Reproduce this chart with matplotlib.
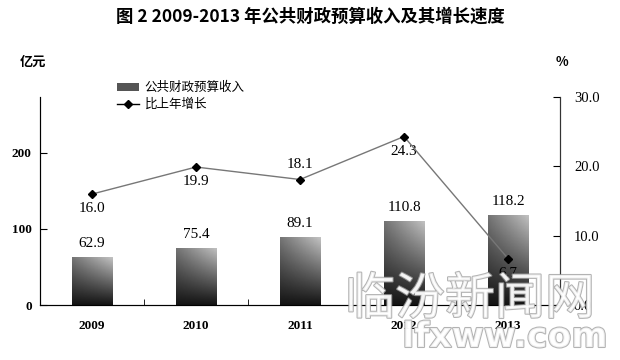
import numpy as np
import matplotlib.pyplot as plt
import matplotlib.patheffects as pe
from matplotlib.lines import Line2D
from matplotlib.patches import Patch

plt.rcParams['font.family'] = ['Noto Sans CJK SC', 'DejaVu Sans']

years = ['2009', '2010', '2011', '2012', '2013']
revenue = [62.9, 75.4, 89.1, 110.8, 118.2]
growth = [16.0, 19.9, 18.1, 24.3, 6.7]
growth_above = [False, False, True, False, False]

serif = 'Liberation Serif'

fig = plt.figure(figsize=(6.2, 3.6), dpi=100)
ax = fig.add_axes([40 / 620, 55 / 360, 520 / 620, 208 / 360])
ax2 = ax.twinx()

x = np.arange(len(years))
bars = ax.bar(x, revenue, width=0.39, color='#444444', zorder=2)

# gradient fill clipped to each bar: dark at the bottom, lighter towards the top right
ny, nx = 60, 30
v = np.linspace(1, 0, ny)[:, None]
h = np.linspace(0, 1, nx)[None, :]
grad = np.clip(0.08 + 0.38 * v + 0.30 * h * v, 0, 0.85)
for b in bars:
    x0, y0 = b.get_x(), b.get_y()
    w, hgt = b.get_width(), b.get_height()
    im = ax.imshow(grad, cmap='gray', vmin=0, vmax=1, aspect='auto',
                   extent=[x0, x0 + w, y0, y0 + hgt], zorder=3)
    im.set_clip_path(b)
    ax.text(b.get_x() + w / 2, hgt + 9, f'{hgt:.1f}', ha='center', va='bottom',
            family=serif, fontsize=11)

ax.set_xlim(-0.5, 4.5)
ax.set_ylim(0, 273)
ax.set_yticks([0, 100, 200])
ax.set_yticklabels(['0', '100', '200'], family=serif, fontsize=9.5, fontweight='bold')
ax.set_xticks(x)
ax.set_xticklabels(years, family=serif, fontsize=9.5, fontweight='bold')
ax.tick_params(axis='x', length=0, pad=11)
ax.set_xticks(x[:-1] + 0.5, minor=True)
ax.tick_params(axis='x', which='minor', direction='in', length=4)
ax.tick_params(axis='y', direction='in', length=5, pad=6)
ax.spines['top'].set_visible(False)
for s in ['left', 'right', 'bottom']:
    ax.spines[s].set_color('#333333')

ax2.plot(x, growth, color='#777777', lw=1, marker='D', markersize=4,
         markerfacecolor='black', markeredgecolor='black', zorder=4)
for xi, g, up in zip(x, growth, growth_above):
    if up:
        ax2.text(xi, g + 1.2, f'{g:.1f}', ha='center', va='bottom', family=serif, fontsize=11)
    else:
        ax2.text(xi, g - 1.2, f'{g:.1f}', ha='center', va='top', family=serif, fontsize=11)
ax2.set_ylim(0, 30)
ax2.set_yticks([0, 10, 20, 30])
ax2.set_yticklabels(['0.0', '10.0', '20.0', '30.0'], family=serif, fontsize=10.5)
ax2.tick_params(axis='y', direction='in', length=5, pad=10)
ax2.spines['top'].set_visible(False)
ax2.spines['right'].set_color('#333333')
ax.set_zorder(1)
ax2.set_zorder(2)
ax2.patch.set_visible(False)

handles = [Patch(facecolor='#555555', edgecolor='none'),
           Line2D([0], [0], color='black', lw=1, marker='D', markersize=4)]
fig.legend(handles, ['公共财政预算收入', '比上年增长'], loc='upper left',
           bbox_to_anchor=(106 / 620, 1 - 70 / 360), frameon=False, fontsize=9,
           handlelength=1.7, handletextpad=0.5, labelspacing=0.3)

fig.text(0.5, 1 - 17 / 360, '图 2 2009-2013 年公共财政预算收入及其增长速度',
         ha='center', va='center', fontsize=12.5, fontweight='heavy')
fig.text(20 / 620, 1 - 62 / 360, '亿元', ha='left', va='center', fontsize=9.5, fontweight='bold')
fig.text(556 / 620, 1 - 62 / 360, '%', ha='left', va='center', fontsize=9.5, fontweight='bold')

# watermark
wm = [pe.withStroke(linewidth=1.5, foreground='#a0a0a0')]
fig.text(470 / 620, 1 - 300 / 360, '临汾新闻网', ha='center', va='center', fontsize=36,
         color='white', alpha=0.8, path_effects=wm, zorder=10)
fig.text(505 / 620, 1 - 337 / 360, 'lfxww.com', ha='center', va='center', fontsize=25,
         fontweight='bold', family='DejaVu Sans', color='white', alpha=0.8,
         path_effects=wm, zorder=10)

fig.savefig('out.png', dpi=100)
